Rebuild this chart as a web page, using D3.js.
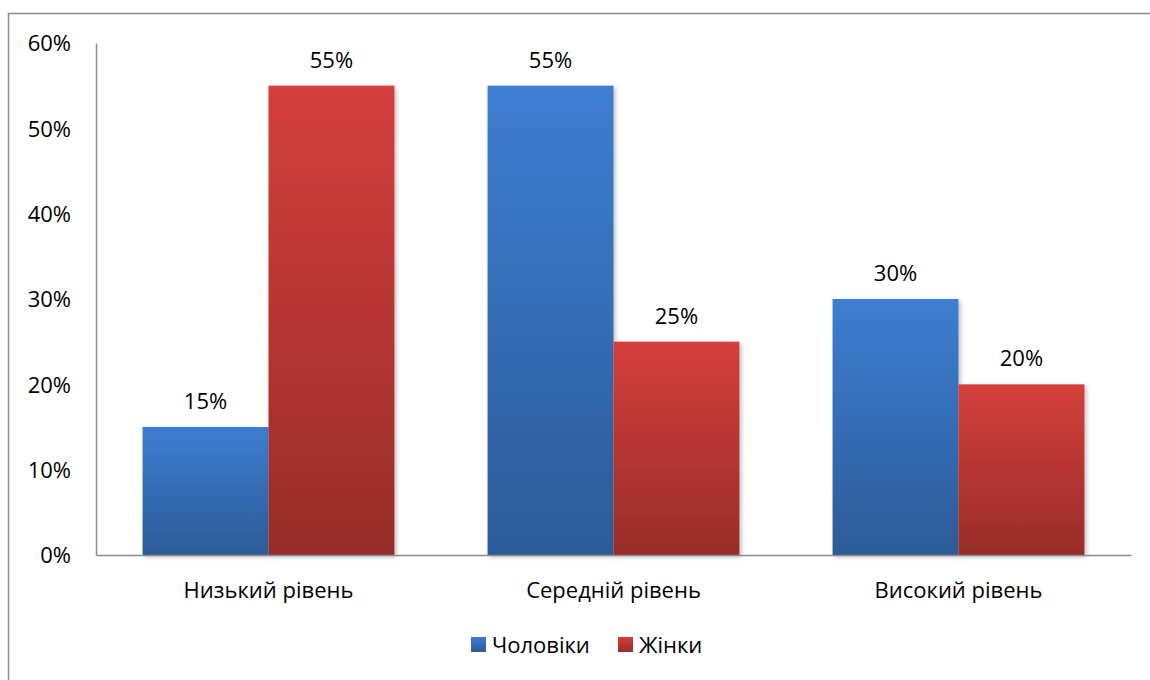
<!DOCTYPE html>
<html>
<head>
<meta charset="utf-8">
<script src="https://cdn.jsdelivr.net/npm/d3@7"></script>
<style>
  body { margin: 0; background: #fff; }
  text { font-family: "Open Sans", "Noto Sans", sans-serif; fill: #000; }
</style>
</head>
<body>
<div id="chart"></div>
<script>
// chart data
const categories = ["Низький рівень", "Середній рівень", "Високий рівень"];
const seriesNames = ["Чоловіки", "Жінки"];
const menValues = [0.15, 0.55, 0.30];
const womenValues = [0.55, 0.25, 0.20];
const yTicks = [0, 0.1, 0.2, 0.3, 0.4, 0.5, 0.6];

const width = 1150;
const height = 680;
const margin = { top: 43, right: 19, bottom: 125, left: 96 };
const fontSize = "22px";

const svg = d3.select("#chart")
    .append("svg")
    .attr("width", width)
    .attr("height", height);

const defs = svg.append("defs");

//gradients for bars, lighter on top
const gradColors = [
    { id: "gradBlue", top: "#3d7ed1", bottom: "#2c5b98" },
    { id: "gradRed", top: "#d43f3b", bottom: "#982c29" }
];
gradColors.forEach(function(g) {
    const lg = defs.append("linearGradient")
        .attr("id", g.id)
        .attr("x1", "0%").attr("y1", "0%")
        .attr("x2", "0%").attr("y2", "100%");
    lg.append("stop").attr("offset", "0%").attr("stop-color", g.top);
    lg.append("stop").attr("offset", "100%").attr("stop-color", g.bottom);
});

//soft shadow like the office chart
const shadow = defs.append("filter")
    .attr("id", "shadow")
    .attr("x", "-10%").attr("y", "-10%")
    .attr("width", "130%").attr("height", "130%");
shadow.append("feDropShadow")
    .attr("dx", 2).attr("dy", 2)
    .attr("stdDeviation", 2)
    .attr("flood-color", "#000")
    .attr("flood-opacity", 0.25);

//outer frame (clipped by the picture on right and bottom)
svg.append("rect")
    .attr("x", 8.5)
    .attr("y", 13.5)
    .attr("width", 1160)
    .attr("height", 700)
    .attr("fill", "none")
    .attr("stroke", "#8c8c8c")
    .attr("stroke-width", 1.5);

const y = d3.scaleLinear()
    .domain([0, 0.6])
    .range([height - margin.bottom, margin.top]);

const x0 = d3.scaleBand()
    .domain(categories)
    .range([margin.left, width - margin.right])
    .paddingInner(0.27)
    .paddingOuter(0.135);

const x1 = d3.scaleBand()
    .domain(seriesNames)
    .range([0, x0.bandwidth()]);

const data = categories.map(function(c, i) {
    return { category: c, values: [
        { series: seriesNames[0], value: menValues[i], fill: "url(#gradBlue)" },
        { series: seriesNames[1], value: womenValues[i], fill: "url(#gradRed)" }
    ] };
});

//bars
const groups = svg.selectAll("g.group")
    .data(data)
    .enter()
    .append("g")
    .attr("class", "group")
    .attr("transform", function(d) { return "translate(" + x0(d.category) + ",0)"; });

groups.selectAll("rect")
    .data(function(d) { return d.values; })
    .enter()
    .append("rect")
    .attr("x", function(d) { return x1(d.series); })
    .attr("y", function(d) { return y(d.value); })
    .attr("width", x1.bandwidth())
    .attr("height", function(d) { return y(0) - y(d.value); })
    .attr("fill", function(d) { return d.fill; })
    .attr("filter", "url(#shadow)");

//value labels
groups.selectAll("text.val")
    .data(function(d) { return d.values; })
    .enter()
    .append("text")
    .attr("class", "val")
    .attr("x", function(d) { return x1(d.series) + x1.bandwidth() / 2; })
    .attr("y", function(d) { return y(d.value) - 18; })
    .attr("text-anchor", "middle")
    .style("font-size", fontSize)
    .text(function(d) { return d3.format(".0%")(d.value); });

//y axis
const yAxis = svg.append("g")
    .attr("transform", "translate(" + margin.left + ",0)")
    .call(d3.axisLeft(y).tickValues(yTicks).tickFormat(d3.format(".0%")).tickSize(0).tickPadding(25));
yAxis.select(".domain").attr("stroke", "#8c8c8c").attr("stroke-width", 1.5);
yAxis.selectAll("text")
    .attr("font-family", null)
    .style("font-size", fontSize)
    .attr("dy", "0.35em");

//x axis
const xAxis = svg.append("g")
    .attr("transform", "translate(0," + y(0) + ")")
    .call(d3.axisBottom(x0).tickSize(0).tickPadding(27));
xAxis.select(".domain").attr("stroke", "#8c8c8c").attr("stroke-width", 1.5);
xAxis.selectAll("text")
    .attr("font-family", null)
    .style("font-size", fontSize);

//legend
const legendItems = [
    { name: seriesNames[0], fill: "url(#gradBlue)", x: 471 },
    { name: seriesNames[1], fill: "url(#gradRed)", x: 618 }
];
const legend = svg.append("g");
legendItems.forEach(function(it) {
    legend.append("rect")
        .attr("x", it.x)
        .attr("y", 637)
        .attr("width", 15)
        .attr("height", 15)
        .attr("fill", it.fill);
    legend.append("text")
        .attr("x", it.x + 21)
        .attr("y", 645)
        .attr("dy", "0.35em")
        .style("font-size", fontSize)
        .text(it.name);
});
</script>
</body>
</html>
